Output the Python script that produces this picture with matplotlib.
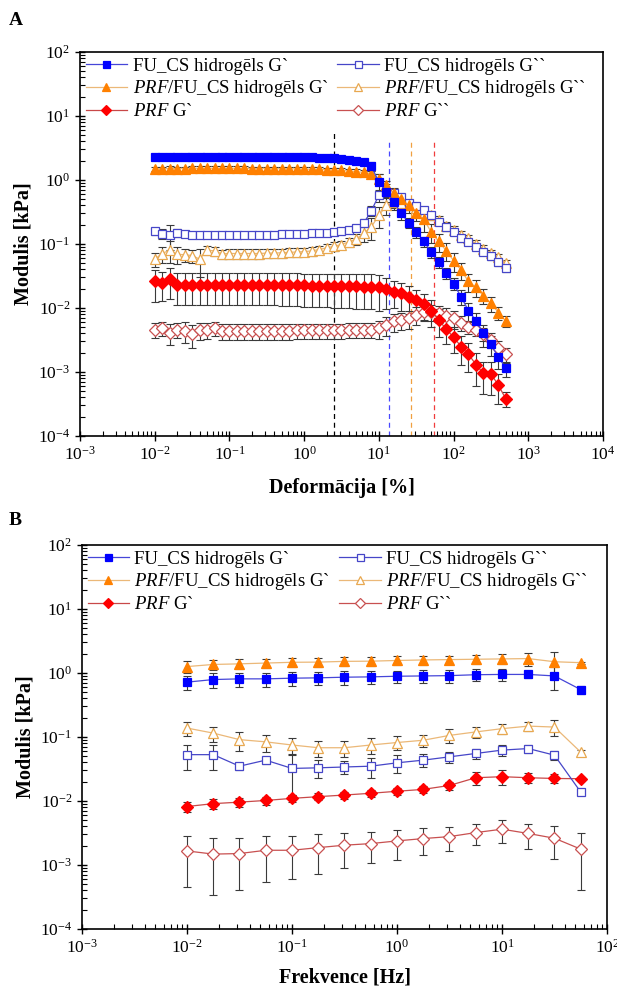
import matplotlib.pyplot as plt
from matplotlib.ticker import LogLocator, NullFormatter

plt.rcParams['font.family'] = ['Liberation Serif', 'DejaVu Serif']
plt.rcParams['mathtext.fontset'] = 'custom'
plt.rcParams['mathtext.rm'] = 'Liberation Serif'
plt.rcParams['mathtext.it'] = 'Liberation Serif:italic'
plt.rcParams['mathtext.bf'] = 'Liberation Serif:bold'

# A - amplitude sweep (strain, %)
strain = [0.01, 0.0126, 0.0158, 0.02, 0.0251, 0.0316, 0.0398, 0.0501, 0.0631, 0.0794,
          0.1, 0.126, 0.158, 0.2, 0.251, 0.316, 0.398, 0.501, 0.631, 0.794,
          1.0, 1.26, 1.58, 2.0, 2.51, 3.16, 3.98, 5.01, 6.31, 7.94,
          10.0, 12.6, 15.8, 20.0, 25.1, 31.6, 39.8, 50.1, 63.1, 79.4,
          100, 126, 158, 200, 251, 316, 398, 501]

fu_g1 = [2.30, 2.31, 2.32, 2.32, 2.32, 2.32, 2.32, 2.32, 2.32, 2.32,
         2.32, 2.31, 2.31, 2.31, 2.30, 2.30, 2.30, 2.29, 2.28, 2.28,
         2.27, 2.26, 2.24, 2.22, 2.18, 2.13, 2.07, 1.98, 1.88, 1.65,
         0.92, 0.66, 0.46, 0.30, 0.215, 0.155, 0.11, 0.076, 0.052, 0.035,
         0.024, 0.015, 0.0091, 0.0063, 0.0040, 0.0027, 0.0017, 0.00115]
fu_g1_err = [0.10, 0.09, 0.09, 0.08, 0.08, 0.08, 0.08, 0.08, 0.08, 0.08,
             0.08, 0.08, 0.08, 0.08, 0.08, 0.08, 0.08, 0.08, 0.08, 0.08,
             0.08, 0.08, 0.08, 0.08, 0.09, 0.10, 0.12, 0.14, 0.18, 0.25,
             0.30, 0.20, 0.12, 0.06, 0.04, 0.03, 0.02, 0.015, 0.01, 0.007,
             0.005, 0.004, 0.003, 0.002, 0.0015, 0.0009, 0.0006, 0.0003]

fu_g2 = [0.160, 0.145, 0.140, 0.150, 0.145, 0.140, 0.138, 0.140, 0.138, 0.138,
         0.138, 0.138, 0.138, 0.138, 0.139, 0.140, 0.140, 0.141, 0.142, 0.143,
         0.145, 0.147, 0.149, 0.151, 0.154, 0.158, 0.165, 0.180, 0.215, 0.33,
         0.58, 0.65, 0.62, 0.55, 0.44, 0.39, 0.34, 0.28, 0.22, 0.186,
         0.155, 0.122, 0.109, 0.091, 0.076, 0.065, 0.053, 0.042]
fu_g2_err = [0.02, 0.025, 0.06, 0.02, 0.012, 0.01, 0.01, 0.01, 0.01, 0.01,
             0.01, 0.01, 0.01, 0.01, 0.01, 0.01, 0.01, 0.01, 0.01, 0.01,
             0.01, 0.01, 0.01, 0.01, 0.012, 0.012, 0.015, 0.02, 0.03, 0.06,
             0.12, 0.1, 0.08, 0.06, 0.05, 0.04, 0.035, 0.03, 0.025, 0.02,
             0.016, 0.014, 0.012, 0.01, 0.009, 0.008, 0.007, 0.006]

prf_fu_g1 = [1.50, 1.50, 1.51, 1.51, 1.51, 1.52, 1.52, 1.52, 1.52, 1.52,
             1.52, 1.52, 1.52, 1.51, 1.51, 1.51, 1.50, 1.50, 1.50, 1.49,
             1.48, 1.47, 1.46, 1.45, 1.43, 1.41, 1.38, 1.35, 1.31, 1.25,
             1.05, 0.82, 0.62, 0.50, 0.40, 0.31, 0.243, 0.155, 0.11, 0.079,
             0.055, 0.039, 0.026, 0.021, 0.0155, 0.0118, 0.0085, 0.0062]
prf_fu_g1_err = [0.12, 0.12, 0.12, 0.11, 0.11, 0.11, 0.11, 0.11, 0.11, 0.11,
                 0.11, 0.11, 0.11, 0.11, 0.11, 0.11, 0.11, 0.11, 0.11, 0.11,
                 0.11, 0.11, 0.11, 0.11, 0.11, 0.11, 0.11, 0.11, 0.11, 0.12,
                 0.2, 0.15, 0.12, 0.1, 0.09, 0.08, 0.09, 0.05, 0.035, 0.025,
                 0.018, 0.012, 0.008, 0.006, 0.004, 0.003, 0.002, 0.0012]

prf_fu_g2 = [0.058, 0.071, 0.080, 0.069, 0.068, 0.066, 0.058, 0.080, 0.078, 0.070,
             0.071, 0.071, 0.071, 0.071, 0.071, 0.072, 0.072, 0.073, 0.074, 0.075,
             0.076, 0.078, 0.082, 0.087, 0.092, 0.098, 0.108, 0.120, 0.148, 0.186,
             0.28, 0.40, 0.46, 0.44, 0.40, 0.37, 0.31, 0.28, 0.235, 0.19,
             0.165, 0.138, 0.122, 0.10, 0.084, 0.072, 0.062, 0.051]
prf_fu_g2_err = [0.015, 0.02, 0.03, 0.02, 0.015, 0.015, 0.027, 0.012, 0.012, 0.012,
                 0.012, 0.012, 0.012, 0.012, 0.012, 0.012, 0.012, 0.012, 0.012, 0.012,
                 0.012, 0.012, 0.012, 0.013, 0.014, 0.015, 0.018, 0.025, 0.04, 0.07,
                 0.1, 0.12, 0.1, 0.08, 0.06, 0.05, 0.045, 0.04, 0.035, 0.03,
                 0.025, 0.02, 0.017, 0.015, 0.012, 0.01, 0.008, 0.006]

prf_g1 = [0.026, 0.025, 0.028, 0.023, 0.023, 0.023, 0.023, 0.023, 0.023, 0.023,
          0.023, 0.023, 0.023, 0.023, 0.023, 0.023, 0.023, 0.0228, 0.0227, 0.0226,
          0.0225, 0.0224, 0.0223, 0.0222, 0.0221, 0.022, 0.0219, 0.0218, 0.0216, 0.0215,
          0.021, 0.0195, 0.018, 0.017, 0.015, 0.0133, 0.0115, 0.0091, 0.0065, 0.0047,
          0.0035, 0.0025, 0.0019, 0.0013, 0.00095, 0.00094, 0.00062, 0.00038]
prf_g1_err = [0.0135, 0.012, 0.014, 0.012, 0.012, 0.012, 0.012, 0.012, 0.012, 0.012,
              0.012, 0.012, 0.012, 0.012, 0.012, 0.012, 0.012, 0.012, 0.012, 0.012,
              0.012, 0.012, 0.012, 0.012, 0.012, 0.012, 0.012, 0.012, 0.012, 0.012,
              0.012, 0.01, 0.008, 0.008, 0.007, 0.006, 0.005, 0.004, 0.003, 0.002,
              0.0015, 0.0012, 0.0009, 0.0007, 0.0005, 0.0005, 0.0003, 0.0001]

prf_g2 = [0.0046, 0.0048, 0.0041, 0.0046, 0.0044, 0.0039, 0.0045, 0.0046, 0.0048, 0.0044,
          0.0044, 0.0044, 0.0044, 0.0044, 0.0044, 0.0044, 0.0044, 0.0044, 0.0044, 0.0045,
          0.0045, 0.0045, 0.0045, 0.0045, 0.0045, 0.0045, 0.0046, 0.0046, 0.0046, 0.0046,
          0.0048, 0.0055, 0.0062, 0.0065, 0.0069, 0.0079, 0.0087, 0.0087, 0.0083, 0.0075,
          0.0069, 0.0059, 0.0051, 0.0046, 0.0039, 0.0032, 0.0024, 0.0019]
prf_g2_err = [0.0012, 0.0012, 0.0015, 0.0012, 0.0016, 0.0015, 0.0013, 0.0013, 0.0012, 0.0012,
              0.0012, 0.0012, 0.0012, 0.0012, 0.0012, 0.0012, 0.0012, 0.0012, 0.0012, 0.0012,
              0.0012, 0.0012, 0.0012, 0.0012, 0.0012, 0.0012, 0.0012, 0.0012, 0.0012, 0.0012,
              0.0015, 0.0018, 0.002, 0.002, 0.0022, 0.0025, 0.0025, 0.0025, 0.0025, 0.0025,
              0.0022, 0.0015, 0.0012, 0.001, 0.0009, 0.0008, 0.0006, 0.0005]

# crossover / LVR limits (dashed lines)
limit_strain = [2.5, 13.8, 27, 55]
limit_top = [5.4, 4.2, 4.2, 4.2]
limit_colors = ['black', '#4848ff', '#f0a040', '#f03c3c']

# B - frequency sweep (Hz)
freq = [0.01, 0.0178, 0.0316, 0.0562, 0.1, 0.178, 0.316, 0.562,
        1.0, 1.78, 3.16, 5.62, 10.0, 17.8, 31.6, 56.2]

fu_g1_b = [0.72, 0.79, 0.81, 0.81, 0.83, 0.84, 0.86, 0.87, 0.89, 0.90, 0.91, 0.94, 0.95, 0.95, 0.90, 0.55]
fu_g1_b_err = [0.18, 0.2, 0.2, 0.2, 0.2, 0.2, 0.2, 0.2, 0.2, 0.2, 0.2, 0.2, 0.2, 0.12, 0.35, 0.08]
fu_g2_b = [0.053, 0.053, 0.035, 0.0435, 0.0323, 0.033, 0.034, 0.035, 0.0395, 0.0435, 0.049, 0.0553, 0.0624, 0.066, 0.052, 0.0138]
fu_g2_b_err = [0.022, 0.022, 0.004, 0.005, 0.02, 0.01, 0.008, 0.012, 0.012, 0.01, 0.01, 0.01, 0.012, 0.01, 0.008, 0.001]
prf_fu_g1_b = [1.26, 1.36, 1.39, 1.43, 1.47, 1.48, 1.52, 1.53, 1.57, 1.60, 1.62, 1.64, 1.66, 1.68, 1.50, 1.45]
prf_fu_g1_b_err = [0.26, 0.25, 0.25, 0.25, 0.25, 0.25, 0.25, 0.25, 0.25, 0.25, 0.25, 0.25, 0.3, 0.4, 0.6, 0.05]
prf_fu_g2_b = [0.138, 0.115, 0.091, 0.084, 0.075, 0.068, 0.068, 0.075, 0.082, 0.089, 0.106, 0.12, 0.135, 0.148, 0.143, 0.058]
prf_fu_g2_b_err = [0.035, 0.03, 0.03, 0.025, 0.02, 0.02, 0.02, 0.02, 0.02, 0.02, 0.025, 0.025, 0.025, 0.025, 0.04, 0.005]
prf_g1_b = [0.0082, 0.0091, 0.0096, 0.0102, 0.011, 0.0117, 0.0124, 0.0132, 0.0142, 0.0152, 0.0175, 0.0231, 0.024, 0.0231, 0.0225, 0.0223]
prf_g1_b_err = [0.0015, 0.0017, 0.0015, 0.0014, 0.0015, 0.0015, 0.0016, 0.0017, 0.0017, 0.0018, 0.0025, 0.005, 0.0065, 0.004, 0.0035, 0.0015]
prf_g2_b = [0.00166, 0.00148, 0.00151, 0.0017, 0.0017, 0.00187, 0.00204, 0.00216, 0.00238, 0.00259, 0.00278, 0.00321, 0.00363, 0.00311, 0.00262, 0.00177]
prf_g2_b_err = [0.0012, 0.00114, 0.0011, 0.00116, 0.0011, 0.00115, 0.00115, 0.00108, 0.0012, 0.00117, 0.00112, 0.00115, 0.0014, 0.0013, 0.0014, 0.00136]

labels = ['FU_CS hidrogēls G`', 'FU_CS hidrogēls G``',
          '$\\mathit{PRF}$/FU_CS hidrogēls G`', '$\\mathit{PRF}$/FU_CS hidrogēls G``',
          '$\\mathit{PRF}$ G`', '$\\mathit{PRF}$ G``']
markers = ['s', 's', '^', '^', 'D', 'D']
face = ['#0000ff', 'white', '#ff8000', 'white', '#ff0000', 'white']
edge = ['#0000ff', '#4646c8', '#ff8000', '#e8a850', '#ff0000', '#c85050']
line_col = ['#4646d8', '#4646c8', '#ebb878', '#ebb878', '#c84848', '#c85050']
msize = [6.3, 6.3, 7.3, 7.3, 5.8, 5.8]

fig = plt.figure(figsize=(6.17, 9.9), dpi=100)
axA = fig.add_axes([0.1297, 0.5596, 0.8476, 0.3879])
axB = fig.add_axes([0.1329, 0.0616, 0.8509, 0.3879])

seriesA = [(fu_g1, fu_g1_err), (fu_g2, fu_g2_err), (prf_fu_g1, prf_fu_g1_err),
           (prf_fu_g2, prf_fu_g2_err), (prf_g1, prf_g1_err), (prf_g2, prf_g2_err)]
seriesB = [(fu_g1_b, fu_g1_b_err), (fu_g2_b, fu_g2_b_err), (prf_fu_g1_b, prf_fu_g1_b_err),
           (prf_fu_g2_b, prf_fu_g2_b_err), (prf_g1_b, prf_g1_b_err), (prf_g2_b, prf_g2_b_err)]
# drawing order (back to front)
order = [5, 4, 3, 1, 2, 0]

for ax, x, series in [(axA, strain, seriesA), (axB, freq, seriesB)]:
    handles = {}
    for i in order:
        y, err = series[i]
        ax.errorbar(x, y, yerr=err, fmt='none', ecolor='#3a3a3a', elinewidth=0.8,
                    capsize=3, capthick=0.8, zorder=2)
        h, = ax.plot(x, y, color=line_col[i], lw=0.9, marker=markers[i], ms=msize[i],
                     mfc=face[i], mec=edge[i], mew=0.9, label=labels[i], zorder=3)
        handles[i] = h
    hs = [handles[0], handles[2], handles[4], handles[1], handles[3], handles[5]]
    ax.legend(handles=hs, ncol=2, loc='upper left', frameon=False, fontsize=13.5,
              handlelength=2.2, handletextpad=0.3, columnspacing=0.5, markerscale=0.8,
              labelspacing=0.2, borderaxespad=0.1, borderpad=0.2)
    ax.set_yscale('log')
    ax.set_xscale('log')
    ax.set_ylim(1e-4, 1e2)
    ax.yaxis.set_major_locator(LogLocator(base=10, numticks=20))
    ax.yaxis.set_minor_locator(LogLocator(base=10, subs=range(2, 10), numticks=20))
    ax.xaxis.set_major_locator(LogLocator(base=10, numticks=20))
    ax.xaxis.set_minor_locator(LogLocator(base=10, subs=range(2, 10), numticks=20))
    ax.xaxis.set_minor_formatter(NullFormatter())
    ax.yaxis.set_minor_formatter(NullFormatter())
    ax.tick_params(which='major', direction='inout', length=7, width=1, labelsize=12.5,
                   top=False, right=False)
    ax.tick_params(which='minor', direction='in', length=3.5, width=0.8, top=False, right=False)
    for s in ax.spines.values():
        s.set_linewidth(1.2)
    ax.set_ylabel('Modulis [kPa]', fontsize=14.5, fontweight='bold', labelpad=3)

axA.vlines(limit_strain, 1e-4, limit_top, colors=limit_colors, linestyles=(0, (4, 3)), lw=0.9, zorder=1)
axA.set_xlim(1e-3, 1e4)
axA.set_xlabel('Deformācija [%]', fontsize=14.5, fontweight='bold', labelpad=10)
axB.set_xlim(1e-3, 1e2)
axB.set_xlabel('Frekvence [Hz]', fontsize=14.5, fontweight='bold', labelpad=8)

fig.text(0.014, 0.979, 'A', fontsize=14, fontweight='bold', va='center')
fig.text(0.014, 0.474, 'B', fontsize=14, fontweight='bold', va='center')

fig.savefig('out.png', dpi=100)
